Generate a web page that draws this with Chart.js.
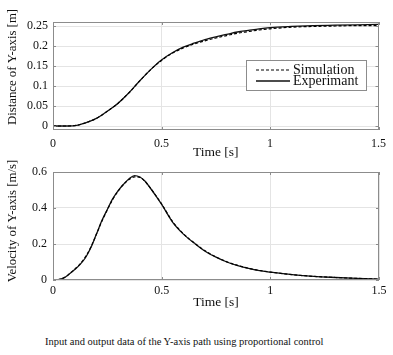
<!DOCTYPE html>
<html>
<head>
<meta charset="utf-8">
<script src="https://cdn.jsdelivr.net/npm/chart.js@4.4.0/dist/chart.umd.min.js"></script>
<style>
html,body{margin:0;padding:0;background:#fff;}
#wrap{position:relative;width:393px;height:355px;overflow:hidden;background:#fff;}
#c1{position:absolute;left:0;top:0;}
#c2{position:absolute;left:0;top:150px;}
#caption{position:absolute;left:45px;top:336px;font-family:"Liberation Serif",serif;font-size:10.5px;white-space:nowrap;color:#111;}
</style>
</head>
<body>
<div id="wrap">
  <canvas id="c1" width="393" height="161"></canvas>
  <canvas id="c2" width="393" height="161"></canvas>
  <div id="caption">Input and output data of the Y-axis path using proportional control</div>
</div>
<script>
// ---------- data ----------
const timeTicks = [0, 0.5, 1, 1.5];
const distanceTicks = [0, 0.05, 0.1, 0.15, 0.2, 0.25];
const velocityTicks = [0, 0.2, 0.4, 0.6];

const distTime = [0,0.05,0.1,0.15,0.2,0.25,0.3,0.35,0.4,0.45,0.5,0.55,0.6,0.65,0.7,0.75,0.8,0.85,0.9,0.95,1.0,1.1,1.2,1.3,1.4,1.5];
const simDistance = [0,0,0.001,0.008,0.019,0.037,0.057,0.083,0.113,0.141,0.164,0.182,0.195,0.205,0.213,0.220,0.226,0.232,0.236,0.240,0.243,0.247,0.249,0.250,0.251,0.251];
const expDistance = [0,0,0.001,0.008,0.019,0.037,0.057,0.083,0.113,0.141,0.165,0.183,0.197,0.207,0.216,0.223,0.229,0.235,0.239,0.243,0.246,0.249,0.251,0.252,0.253,0.254];

const velTime = [0,0.025,0.05,0.075,0.1,0.125,0.15,0.175,0.2,0.225,0.25,0.275,0.3,0.325,0.35,0.375,0.4,0.425,0.45,0.475,0.5,0.55,0.6,0.65,0.7,0.75,0.8,0.85,0.9,0.95,1.0,1.1,1.2,1.3,1.4,1.5];
const simVelocity = [0,0.002,0.012,0.034,0.06,0.09,0.13,0.185,0.255,0.327,0.39,0.448,0.495,0.532,0.558,0.573,0.57,0.545,0.508,0.466,0.422,0.325,0.257,0.206,0.162,0.128,0.101,0.081,0.065,0.053,0.044,0.03,0.02,0.014,0.009,0.005];
const expVelocity = [0,0.002,0.012,0.033,0.058,0.087,0.125,0.182,0.255,0.33,0.392,0.452,0.497,0.532,0.562,0.58,0.572,0.547,0.507,0.465,0.42,0.322,0.255,0.205,0.16,0.127,0.1,0.08,0.064,0.052,0.044,0.03,0.02,0.014,0.009,0.005];

const seriesLabels = ['Simulation', 'Experimant'];

// ---------- helpers ----------
const FONT = '"Liberation Serif", "Times New Roman", serif';
const pts = (xs, ys) => xs.map((x, i) => ({x: x, y: ys[i]}));
const setTicks = arr => scale => { scale.ticks = arr.map(v => ({value: v})); };

const framePlugin = {
  id: 'frame',
  afterDatasetsDraw(chart, args, opts) {
    const {ctx, chartArea: a, scales: {x, y}} = chart;
    ctx.save();
    ctx.strokeStyle = '#8c8c8c';
    ctx.lineWidth = 1;
    ctx.setLineDash([]);
    ctx.strokeRect(Math.round(a.left) + 0.5, Math.round(a.top) + 0.5, Math.round(a.width) - 1, Math.round(a.height) - 1);
    ctx.beginPath();
    x.ticks.forEach(t => {
      const px = Math.round(x.getPixelForValue(t.value)) + 0.5;
      ctx.moveTo(px, a.bottom); ctx.lineTo(px, a.bottom - 3);
      ctx.moveTo(px, a.top); ctx.lineTo(px, a.top + 3);
    });
    y.ticks.forEach(t => {
      const py = Math.round(y.getPixelForValue(t.value)) + 0.5;
      ctx.moveTo(a.left, py); ctx.lineTo(a.left + 3, py);
      ctx.moveTo(a.right, py); ctx.lineTo(a.right - 3, py);
    });
    ctx.stroke();
    // y-axis title
    ctx.translate(opts.titleX, opts.titleY);
    ctx.rotate(-Math.PI / 2);
    ctx.fillStyle = '#111';
    ctx.font = '12.8px ' + FONT;
    ctx.textAlign = 'center';
    ctx.textBaseline = 'middle';
    ctx.fillText(opts.title, 0, 0);
    ctx.restore();

    if (opts.legend) {
      const L = opts.legend;
      ctx.save();
      ctx.fillStyle = '#fff';
      ctx.fillRect(L.left, L.top, L.width, L.height);
      ctx.strokeStyle = '#8c8c8c';
      ctx.lineWidth = 1;
      ctx.strokeRect(L.left + 0.5, L.top + 0.5, L.width, L.height);
      chart.data.datasets.forEach((ds, i) => {
        const yy = L.top + L.rowStart + i * L.rowGap;
        ctx.beginPath();
        ctx.setLineDash(ds.borderDash || []);
        ctx.strokeStyle = ds.borderColor;
        ctx.lineWidth = ds.borderWidth;
        ctx.moveTo(L.left + L.lineStart, yy);
        ctx.lineTo(L.left + L.lineEnd, yy);
        ctx.stroke();
        ctx.setLineDash([]);
        ctx.fillStyle = '#111';
        ctx.font = '14px ' + FONT;
        ctx.textAlign = 'left';
        ctx.textBaseline = 'middle';
        ctx.fillText(ds.label, L.left + L.textStart, yy + 0.5);
      });
      ctx.restore();
    }
  }
};

function makeOptions(yMin, yMax, yTicks, xPad, yPad, padTop, frameOpts) {
  return {
    responsive: false,
    animation: false,
    devicePixelRatio: 1,
    layout: {padding: {left: 0, right: 14, top: padTop, bottom: 0}},
    elements: {point: {radius: 0}, line: {cubicInterpolationMode: 'monotone'}},
    plugins: {legend: {display: false}, tooltip: {enabled: false}, frame: frameOpts},
    scales: {
      x: {
        type: 'linear', min: 0, max: 1.5,
        afterBuildTicks: setTicks(timeTicks),
        afterFit: s => { s.height = 31; },
        grid: {color: '#e4e4e4', drawTicks: false},
        border: {display: false},
        ticks: {callback: v => String(v), font: {family: FONT, size: 12}, color: '#111', padding: xPad, maxRotation: 0, autoSkip: false},
        title: {display: true, text: 'Time [s]', font: {family: FONT, size: 13.5}, color: '#111', padding: 0}
      },
      y: {
        type: 'linear', min: yMin, max: yMax,
        afterBuildTicks: setTicks(yTicks),
        afterFit: s => { s.width = 53; },
        grid: {color: '#e4e4e4', drawTicks: false},
        border: {display: false},
        ticks: {callback: v => String(v), font: {family: FONT, size: 12}, color: '#111', padding: yPad, autoSkip: false}
      }
    }
  };
}

function datasets(xs, sim, exp) {
  return [
    {label: seriesLabels[0], data: pts(xs, sim), borderColor: '#000', borderWidth: 1.2, borderDash: [3, 2], fill: false},
    {label: seriesLabels[1], data: pts(xs, exp), borderColor: '#111', borderWidth: 1.3, fill: false}
  ];
}

new Chart(document.getElementById('c1'), {
  type: 'line',
  data: {datasets: datasets(distTime, simDistance, expDistance)},
  options: makeOptions(-0.01, 0.26, distanceTicks, 7, 5, 22, {
    title: 'Distance of Y-axis [m]', titleX: 13, titleY: 67,
    legend: {left: 246, top: 60, width: 120, height: 30, rowStart: 10, rowGap: 11, lineStart: 10, lineEnd: 44, textStart: 47}
  }),
  plugins: [framePlugin]
});

new Chart(document.getElementById('c2'), {
  type: 'line',
  data: {datasets: datasets(velTime, simVelocity, expVelocity)},
  options: makeOptions(0, 0.6, velocityTicks, 4, 6, 22, {
    title: 'Velocity of Y-axis [m/s]', titleX: 13, titleY: 71
  }),
  plugins: [framePlugin]
});
</script>
</body>
</html>
